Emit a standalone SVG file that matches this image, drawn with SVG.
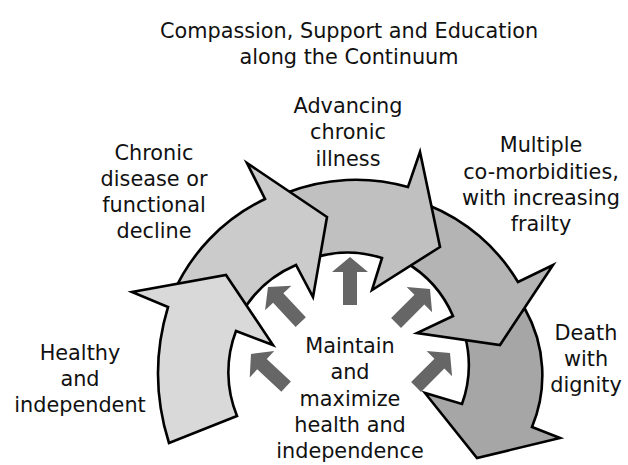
<svg xmlns="http://www.w3.org/2000/svg" width="628" height="465" viewBox="0 0 628 465">
<defs>
<style>
.t{font-family:"DejaVu Sans","Open Sans","Liberation Sans",sans-serif;font-size:20.8px;fill:#111;text-anchor:middle}
.ring{stroke:#000;stroke-width:2.6;stroke-linejoin:miter;stroke-miterlimit:10}
.ptr{fill:#666;stroke:none}
</style>
<path id="ptr" d="M0,0 L18,15 L7,15 L7,48 L-7,48 L-7,15 L-18,15 Z"/>
</defs>
<rect width="628" height="465" fill="#fff"/>
<g id="title">
<text class="t" x="349" y="38">Compassion, Support and Education</text>
<text class="t" x="349" y="64">along the Continuum</text>
</g>
<g id="death">
<path class="ring" fill="#a6a6a6" d="M518,314 L525,309 A135,135 0 0 1 532,427 L560,438 L477,458 L425,393 L462,404 A115,115 0 0 0 465,336 Z"/>
<text class="t" x="586" y="340">Death</text>
<text class="t" x="586" y="366">with</text>
<text class="t" x="586" y="392">dignity</text>
</g>
<g id="multiple">
<path class="ring" fill="#b4b4b4" d="M428,205 A185,185 0 0 1 518,282 L553,265 L500,345 L417,333 L453,316 A115,115 0 0 0 405,262 Z"/>
<text class="t" x="541" y="152">Multiple</text>
<text class="t" x="541" y="179">co-morbidities,</text>
<text class="t" x="541" y="205">with increasing</text>
<text class="t" x="541" y="231">frailty</text>
</g>
<g id="advancing">
<path class="ring" fill="#c0c0c0" d="M286,193 A190,190 0 0 1 408,187 L420,152 L440,247 L372,290 L382,258 A115,115 0 0 0 316,257 Z"/>
<text class="t" x="348" y="113">Advancing</text>
<text class="t" x="348" y="139">chronic</text>
<text class="t" x="348" y="166">illness</text>
</g>
<g id="chronic">
<path class="ring" fill="#cbcbcb" d="M172,296 A190,190 0 0 1 265,199 L247,163 L327,217 L313,297 L296,265 A115,115 0 0 0 240,316 Z"/>
<text class="t" x="154" y="160">Chronic</text>
<text class="t" x="154" y="186">disease or</text>
<text class="t" x="154" y="212">functional</text>
<text class="t" x="154" y="238">decline</text>
</g>
<g id="healthy">
<path class="ring" fill="#d9d9d9" d="M169,443 A230,230 0 0 1 168,307 L132,292 L226,275 L273,345 L236,331 A115,115 0 0 0 237,416 Z"/>
<text class="t" x="80" y="360">Healthy</text>
<text class="t" x="80" y="386">and</text>
<text class="t" x="80" y="412">independent</text>
</g>
<g id="maintain">
<text class="t" x="350" y="353">Maintain</text>
<text class="t" x="350" y="379">and</text>
<text class="t" x="350" y="406">maximize</text>
<text class="t" x="350" y="432">health and</text>
<text class="t" x="350" y="458">independence</text>
</g>
<g id="connectors">
<use href="#ptr" class="ptr" transform="translate(350,257)"/>
<use href="#ptr" class="ptr" transform="translate(268,287) rotate(-43)"/>
<use href="#ptr" class="ptr" transform="translate(251,354) rotate(-47)"/>
<use href="#ptr" class="ptr" transform="translate(430,289) rotate(45)"/>
<use href="#ptr" class="ptr" transform="translate(450,353) rotate(45)"/>
</g>
</svg>
